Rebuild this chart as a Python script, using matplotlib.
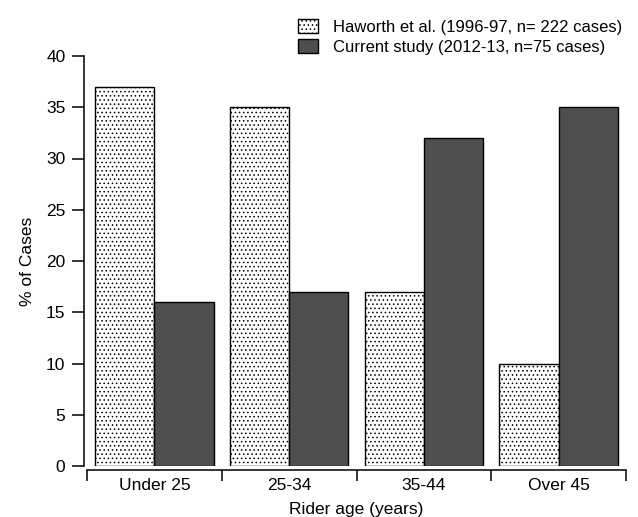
import numpy as np
import matplotlib.pyplot as plt

plt.rcParams['font.family'] = ['Liberation Sans', 'DejaVu Sans']
plt.rcParams['hatch.linewidth'] = 0.6

categories = ['Under 25', '25-34', '35-44', 'Over 45']
haworth = [37, 35, 17, 10]
current = [16, 17, 32, 35]
labels = ['Haworth et al. (1996-97, n= 222 cases)',
          'Current study (2012-13, n=75 cases)']

W, H = 638, 517
fig = plt.figure(figsize=(W / 100, H / 100), dpi=100)
ax = fig.add_axes([87 / W, 1 - 466 / H, (626 - 87) / W, (466 - 56) / H])

x = np.arange(len(categories))
bw = 0.44
b1 = ax.bar(x - bw / 2, haworth, bw, facecolor='white', edgecolor='black',
            hatch='....', lw=1.0, label=labels[0], zorder=2)
b2 = ax.bar(x + bw / 2, current, bw, facecolor='#4f4f4f', edgecolor='black',
            lw=1.0, label=labels[1], zorder=2)

ax.set_xlim(-0.5, len(categories) - 0.5)
ax.set_ylim(0, 40)
ax.set_yticks(range(0, 41, 5))

ax.set_xticks(x)
ax.set_xticklabels(categories)
ax.set_xticks(np.arange(-0.5, len(categories), 1.0), minor=True)
ax.tick_params(axis='x', which='major', length=0, pad=6, labelsize=12.5)
ax.tick_params(axis='x', which='minor', length=8, width=1.1, direction='out')
ax.tick_params(axis='y', length=8.5, width=1.1, direction='out', pad=5,
               labelsize=12.5)

for s in ['top', 'right']:
    ax.spines[s].set_visible(False)
ax.spines['left'].set_position(('outward', 2))
ax.spines['bottom'].set_position(('outward', 3))
ax.spines['left'].set_linewidth(1.1)
ax.spines['bottom'].set_linewidth(1.1)

ax.set_ylabel('% of Cases', fontsize=12.5, labelpad=8)
ax.set_xlabel('Rider age (years)', fontsize=12.5, labelpad=6)

fig.legend(handles=[b1, b2], loc='upper left',
           bbox_to_anchor=(290 / W, 1 - 11 / H), frameon=False,
           fontsize=12, handlelength=1.2, handleheight=0.9,
           handletextpad=0.9, labelspacing=0.25, borderpad=0)

fig.savefig('out.png', dpi=100, facecolor='white')
